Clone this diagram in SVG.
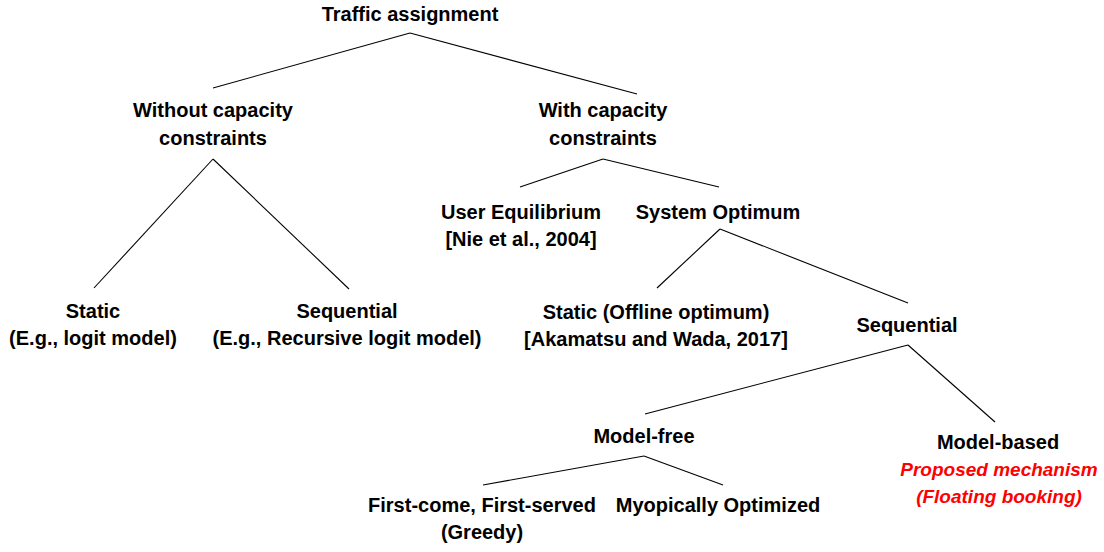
<svg xmlns="http://www.w3.org/2000/svg" width="1104" height="552" viewBox="0 0 1104 552">
<style>
text{font-family:"Liberation Sans",Arial,sans-serif;font-weight:bold;font-size:20px;fill:#000;text-anchor:middle}
.red{fill:#ff0000;font-style:italic;font-size:19px}
.c line{stroke:#000;stroke-width:1.1}
</style>
<rect width="1104" height="552" fill="#fff"/>
<g id="connectors" class="c">
<line x1="410" y1="33" x2="213" y2="88"/>
<line x1="410" y1="33" x2="637" y2="94"/>
<line x1="213" y1="159" x2="94" y2="288"/>
<line x1="213" y1="159" x2="349" y2="289"/>
<line x1="603" y1="159" x2="520" y2="187"/>
<line x1="603" y1="159" x2="719" y2="187"/>
<line x1="720" y1="229" x2="657" y2="288"/>
<line x1="720" y1="229" x2="908" y2="303"/>
<line x1="908" y1="345" x2="645" y2="414"/>
<line x1="908" y1="345" x2="995" y2="422"/>
<line x1="644" y1="456" x2="483" y2="485"/>
<line x1="644" y1="456" x2="723" y2="485"/>
</g>
<g id="traffic-assignment"><text x="410" y="21">Traffic assignment</text></g>
<g id="without-capacity"><text x="213" y="117">Without capacity</text><text x="213" y="145">constraints</text></g>
<g id="with-capacity"><text x="603" y="117">With capacity</text><text x="603" y="145">constraints</text></g>
<g id="user-equilibrium"><text x="521" y="219">User Equilibrium</text><text x="521" y="246">[Nie et al., 2004]</text></g>
<g id="system-optimum"><text x="718" y="219">System Optimum</text></g>
<g id="static-left"><text x="93" y="318">Static</text><text x="93" y="345">(E.g., logit model)</text></g>
<g id="sequential-left"><text x="347" y="318">Sequential</text><text x="347" y="345">(E.g., Recursive logit model)</text></g>
<g id="static-offline"><text x="656" y="319">Static (Offline optimum)</text><text x="656" y="346">[Akamatsu and Wada, 2017]</text></g>
<g id="sequential-right"><text x="907" y="332">Sequential</text></g>
<g id="model-free"><text x="644" y="443">Model-free</text></g>
<g id="model-based"><text x="998" y="449">Model-based</text><text class="red" x="999" y="476">Proposed mechanism</text><text class="red" x="999" y="503">(Floating booking)</text></g>
<g id="fcfs"><text x="482" y="512">First-come, First-served</text><text x="482" y="539">(Greedy)</text></g>
<g id="myopic"><text x="718" y="512">Myopically Optimized</text></g>
</svg>
